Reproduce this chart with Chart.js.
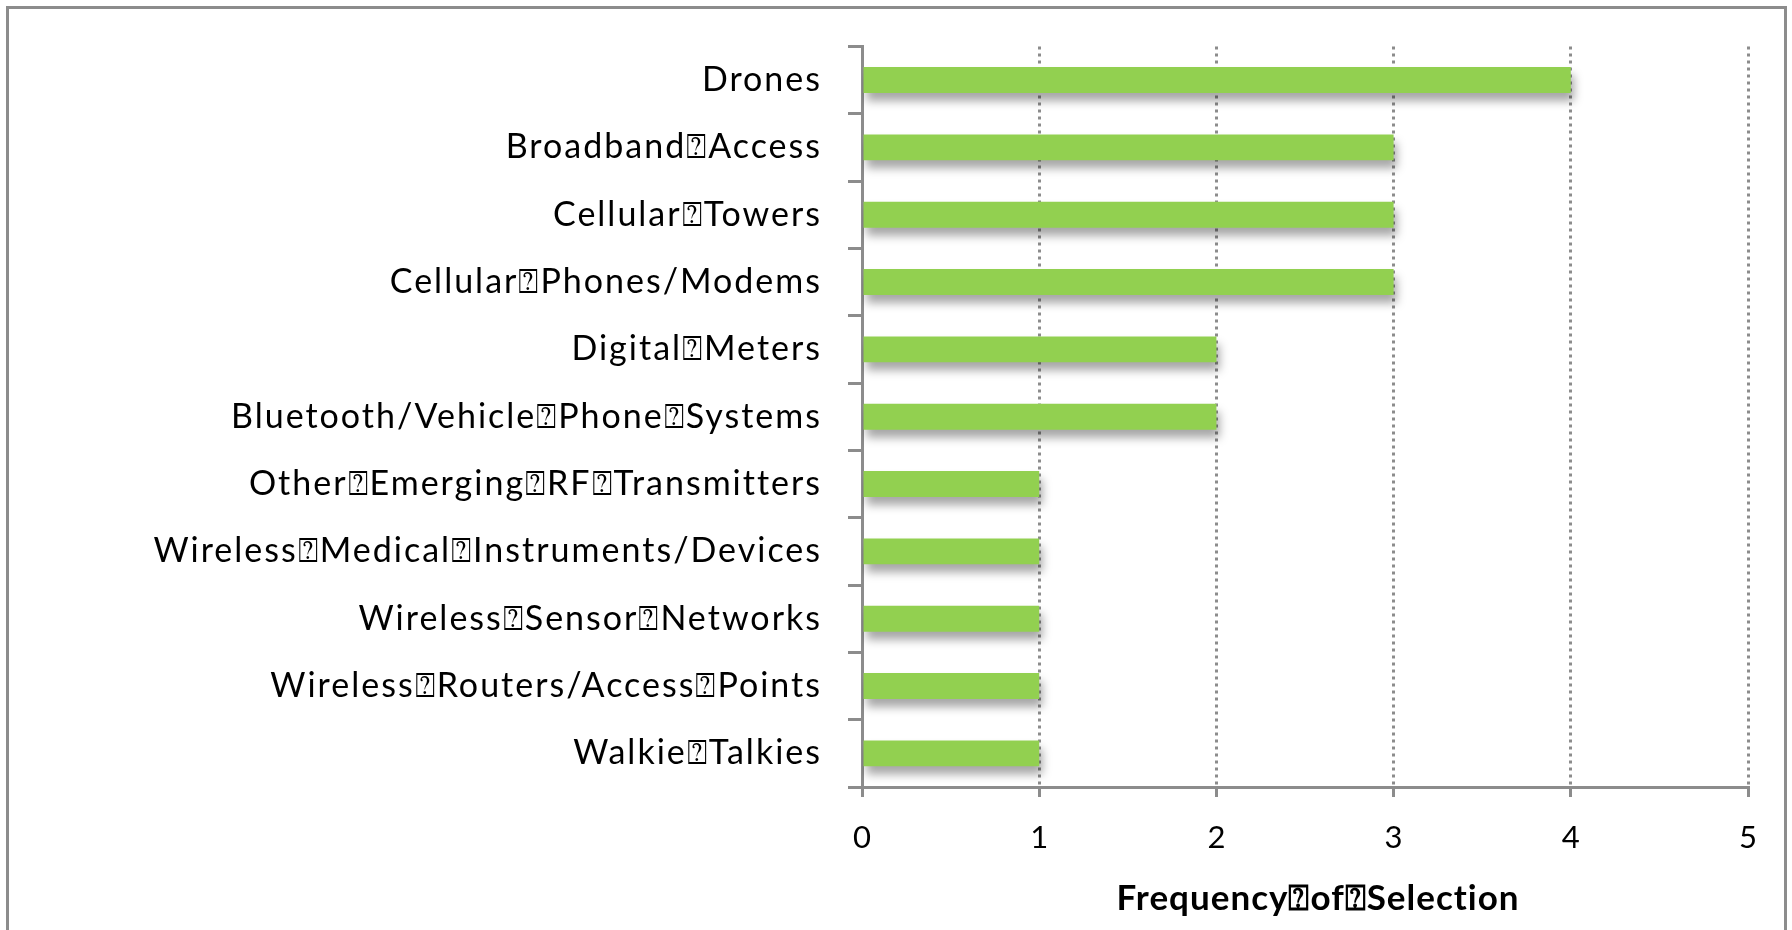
<!DOCTYPE html>
<html>
<head>
<meta charset="utf-8">
<script src="https://cdn.jsdelivr.net/npm/chart.js@4"></script>
<style>
  html, body { margin: 0; padding: 0; background: #fff; overflow: hidden; }
  #wrap { position: relative; width: 1792px; height: 930px; }
  #frame {
    position: absolute; left: 6px; top: 6px; width: 1775px; height: 1000px;
    border: 3px solid #8c8c8c; pointer-events: none;
  }
</style>
</head>
<body>
<div id="wrap">
  <div id="frame"></div>
  <canvas id="freqChart" width="1792" height="930"></canvas>
</div>
<script>
const categories = [
  "Drones",
  "Broadband\u2370Access",
  "Cellular\u2370Towers",
  "Cellular\u2370Phones/Modems",
  "Digital\u2370Meters",
  "Bluetooth/Vehicle\u2370Phone\u2370Systems",
  "Other\u2370Emerging\u2370RF\u2370Transmitters",
  "Wireless\u2370Medical\u2370Instruments/Devices",
  "Wireless\u2370Sensor\u2370Networks",
  "Wireless\u2370Routers/Access\u2370Points",
  "Walkie\u2370Talkies"
];
const frequency = [4, 3, 3, 3, 2, 2, 1, 1, 1, 1, 1];
const xTicks = [0, 1, 2, 3, 4, 5];
const xTitle = "Frequency\u2370of\u2370Selection";

const FONT = "Lato, 'Liberation Sans', sans-serif";

// soft drop shadow under the bars, like the original
const barShadow = {
  id: "barShadow",
  beforeDatasetsDraw(chart) {
    const ctx = chart.ctx;
    ctx.save();
    ctx.shadowColor = "rgba(0,0,0,0.35)";
    ctx.shadowBlur = 10;
    ctx.shadowOffsetX = 3;
    ctx.shadowOffsetY = 8;
  },
  afterDatasetsDraw(chart) {
    chart.ctx.restore();
  }
};

// the source font is set a little wider, so space the letters out a bit
function spaced(scale, method, px, dx = 0) {
  if (scale["_sp_" + method]) return;
  const orig = scale[method].bind(scale);
  scale[method] = (area) => {
    scale.ctx.save();
    scale.ctx.letterSpacing = px;
    scale.ctx.translate(dx, 0);
    orig(area);
    scale.ctx.restore();
  };
  scale["_sp_" + method] = true;
}

const ctx = document.getElementById("freqChart").getContext("2d");
new Chart(ctx, {
  type: "bar",
  data: {
    labels: categories,
    datasets: [
      {
        data: frequency,
        backgroundColor: "#92d050",
        borderWidth: 0,
        categoryPercentage: 1,
        barPercentage: 0.385
      }
    ]
  },
  options: {
    indexAxis: "y",
    responsive: false,
    animation: false,
    layout: { padding: { top: 42, right: 44, left: 0, bottom: 0 } },
    plugins: {
      legend: { display: false },
      tooltip: { enabled: false }
    },
    scales: {
      x: {
        min: 0,
        max: 5,
        afterFit: (s) => { s.height = 143; },
        afterUpdate: (s) => spaced(s, "drawTitle", "1px", 13),
        afterBuildTicks: (s) => { s.ticks = xTicks.map((v) => ({ value: v })); },
        ticks: { color: "#000", padding: 22, font: { family: FONT, size: 31 } },
        grid: {
          color: "#8c8c8c",
          lineWidth: 3,
          drawTicks: true,
          tickLength: 10,
          tickColor: "#8c8c8c",
          tickWidth: 3
        },
        border: { display: true, color: "#8c8c8c", width: 3, dash: [3, 4] },
        title: {
          display: true,
          text: xTitle,
          color: "#000",
          padding: { top: 0, bottom: 10 },
          font: { family: FONT, size: 35, weight: "bold" }
        }
      },
      y: {
        afterFit: (s) => { s.width = 862; },
        afterUpdate: (s) => spaced(s, "drawLabels", "2px"),
        ticks: { color: "#000", padding: 26, font: { family: FONT, size: 34 } },
        grid: {
          drawOnChartArea: false,
          drawTicks: true,
          tickLength: 14,
          tickColor: "#8c8c8c",
          tickWidth: 3
        },
        border: { display: true, color: "#8c8c8c", width: 3 }
      }
    }
  },
  plugins: [barShadow]
});
</script>
</body>
</html>
